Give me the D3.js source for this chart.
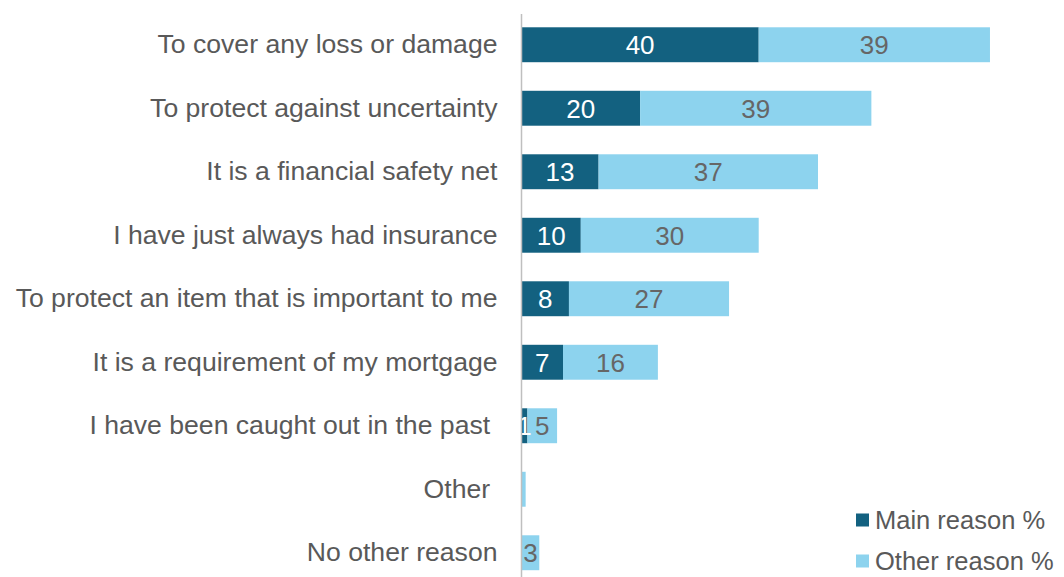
<!DOCTYPE html>
<html>
<head>
<meta charset="utf-8">
<script src="https://cdn.jsdelivr.net/npm/d3@7"></script>
<style>
  html, body { margin: 0; padding: 0; background: #fff; }
  svg text { font-family: "Liberation Sans", Arial, sans-serif; }
</style>
</head>
<body>
<svg id="chart" width="1064" height="577"></svg>
<script>
// Reasons for holding insurance, ranked by main reason
const categories = [
  "To cover any loss or damage",
  "To protect against uncertainty",
  "It is a financial safety net",
  "I have just always had insurance",
  "To protect an item that is important to me",
  "It is a requirement of my mortgage",
  "I have been caught out in the past ",
  "Other ",
  "No other reason"
];
const mainReason  = [40, 20, 13, 10, 8, 7, 1, 0, 0];
const otherReason = [39, 39, 37, 30, 27, 16, 5, 0.7, 3];
// which values carry a printed label (the tiny "Other" sliver does not)
const showMain  = [true, true, true, true, true, true, true, false, false];
const showOther = [true, true, true, true, true, true, true, false, true];
const seriesNames = ["Main reason %", "Other reason %"];

const colors = ["#136180", "#8dd3ee"];
const svg = d3.select("#chart");

const x0 = 521.5;
const x = d3.scaleLinear().domain([0, 1]).range([x0, x0 + 5.93]);
const y = d3.scaleBand()
  .domain(categories)
  .range([13, 13 + 63.5 * categories.length])
  .paddingInner(0.45)
  .paddingOuter(0.225);

const rows = categories.map((c, i) => ({
  c, i, m: mainReason[i], o: otherReason[i]
}));

const g = svg.append("g");

// main reason segment
g.selectAll("rect.main").data(rows.filter(d => d.m > 0)).join("rect")
  .attr("class", "main")
  .attr("x", d => x(0))
  .attr("y", d => y(d.c))
  .attr("width", d => x(d.m) - x(0))
  .attr("height", y.bandwidth())
  .attr("fill", colors[0]);

// other reason segment, stacked after main
g.selectAll("rect.other").data(rows.filter(d => d.o > 0)).join("rect")
  .attr("class", "other")
  .attr("x", d => x(d.m))
  .attr("y", d => y(d.c))
  .attr("width", d => x(d.m + d.o) - x(d.m))
  .attr("height", y.bandwidth())
  .attr("fill", colors[1]);

// value labels
g.selectAll("text.mlab").data(rows.filter(d => showMain[d.i])).join("text")
  .attr("class", "mlab")
  .attr("x", d => (x(0) + x(d.m)) / 2)
  .attr("y", d => y(d.c) + y.bandwidth() / 2)
  .attr("dy", "0.36em")
  .attr("text-anchor", "middle")
  .attr("font-size", 26)
  .attr("fill", "#ffffff")
  .text(d => d.m);

g.selectAll("text.olab").data(rows.filter(d => showOther[d.i])).join("text")
  .attr("class", "olab")
  .attr("x", d => (x(d.m) + x(d.m + d.o)) / 2)
  .attr("y", d => y(d.c) + y.bandwidth() / 2)
  .attr("dy", "0.36em")
  .attr("text-anchor", "middle")
  .attr("font-size", 26)
  .attr("fill", "#666666")
  .text(d => d.o);

// category axis
const yAxis = d3.axisLeft(y).tickSize(0).tickPadding(24);
const ax = svg.append("g")
  .attr("transform", `translate(${x0},0)`)
  .call(yAxis);
ax.select(".domain").remove();
ax.selectAll("text")
  .attr("font-size", 26.6)
  .attr("fill", "#595959")
  .attr("font-family", "Liberation Sans, Arial, sans-serif")
  .style("white-space", "pre");

svg.append("line")
  .attr("x1", x0).attr("x2", x0)
  .attr("y1", 14).attr("y2", 577)
  .attr("stroke", "#bfbfbf")
  .attr("stroke-width", 1.5);

// legend
const legend = svg.append("g").attr("transform", "translate(856,0)");
const legendY = [520, 561];
seriesNames.forEach((name, i) => {
  legend.append("rect")
    .attr("x", 0).attr("y", legendY[i] - 6.5)
    .attr("width", 13).attr("height", 13)
    .attr("fill", colors[i]);
  legend.append("text")
    .attr("x", 19).attr("y", legendY[i])
    .attr("dy", "0.36em")
    .attr("font-size", 25.5)
    .attr("fill", "#595959")
    .text(name);
});
</script>
</body>
</html>
